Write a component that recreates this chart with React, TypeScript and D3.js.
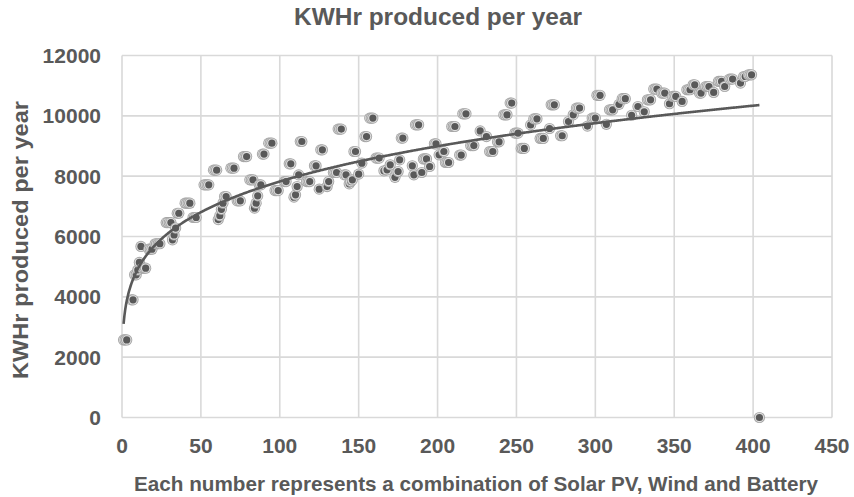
import React from "react";
import * as d3 from "d3";

// Each group: [x of last point, number of consecutive points, KWHr per year]
const groups: [number, number, number][] = [
  [3, 3, 2570], [7, 2, 3900], [9, 2, 4730], [10, 1, 4890], [11, 1, 5140],
  [12, 1, 5670], [15, 3, 4950], [19, 3, 5580], [24, 4, 5760], [31, 4, 6460],
  [32, 1, 5890], [33, 1, 6050], [34, 1, 6280], [36, 2, 6770], [43, 4, 7105],
  [47, 3, 6630], [55, 4, 7712], [60, 3, 8200], [61, 1, 6560], [62, 1, 6690],
  [63, 1, 6900], [64, 1, 7105], [66, 2, 7324], [71, 3, 8266], [75, 3, 7181],
  [79, 3, 8651], [83, 3, 7878], [84, 1, 6940], [85, 1, 7105], [86, 1, 7347],
  [88, 2, 7712], [90, 2, 8731], [95, 3, 9095], [99, 3, 7523], [104, 2, 7822],
  [107, 2, 8409], [109, 1, 7304], [110, 1, 7380], [111, 1, 7656], [112, 1, 8044],
  [114, 2, 9149], [119, 3, 7822], [123, 2, 8343], [125, 1, 7570], [127, 2, 8873],
  [130, 1, 7656], [131, 1, 7822], [136, 3, 8121], [139, 3, 9560], [142, 2, 8044],
  [144, 1, 7745], [145, 1, 7822], [146, 1, 7878], [148, 2, 8817], [150, 1, 8067],
  [152, 1, 8432], [155, 2, 9314], [159, 3, 9925], [163, 3, 8600], [166, 1, 8177],
  [168, 1, 8210], [170, 1, 8376], [173, 1, 7960], [175, 1, 8153], [176, 1, 8541],
  [178, 2, 9262], [184, 1, 8343], [185, 1, 8044], [188, 3, 9702], [190, 1, 8121],
  [193, 3, 8570], [195, 1, 8320], [199, 2, 9072], [201, 1, 8707], [204, 1, 8817],
  [207, 3, 8453], [211, 3, 9646], [215, 2, 8700], [218, 3, 10067], [223, 3, 9015],
  [227, 1, 9500], [231, 1, 9314], [235, 3, 8817], [239, 2, 9140], [244, 3, 10034],
  [247, 2, 10422], [251, 3, 9427], [255, 3, 8920], [259, 1, 9700], [263, 3, 9900],
  [267, 3, 9250], [271, 1, 9580], [274, 3, 10366], [279, 2, 9340], [283, 1, 9812],
  [286, 1, 10034], [290, 3, 10256], [295, 1, 9660], [300, 3, 9925], [303, 3, 10680],
  [307, 1, 9720], [311, 3, 10200], [315, 1, 10380], [319, 3, 10570], [323, 1, 10020],
  [327, 1, 10310], [331, 1, 10133], [335, 3, 10532], [339, 3, 10886], [344, 3, 10754],
  [347, 1, 10400], [351, 3, 10642], [355, 1, 10476], [360, 3, 10864], [363, 2, 11029],
  [367, 2, 10754], [372, 3, 10973], [375, 1, 10775], [380, 3, 11139], [382, 1, 10973],
  [387, 3, 11218], [392, 1, 11085], [395, 2, 11304], [399, 3, 11361], [404, 1, 0],
];

// Power trendline y = a * x^b, coefficients
const trendA = 3100;
const trendB = 0.201;

const xTicks = [0, 50, 100, 150, 200, 250, 300, 350, 400, 450];
const yTicks = [0, 2000, 4000, 6000, 8000, 10000, 12000];

const title = "KWHr produced per year";
const yTitle = "KWHr produced per year";
const xTitle = "Each number represents a combination  of Solar PV, Wind and Battery";

const W = 854;
const H = 497;
const FONT = "'Liberation Sans', Arial, sans-serif";
const TXT = "#595959";

export default function App() {
  const points: { x: number; y: number }[] = [];
  groups.forEach(([xe, n, v]) => {
    for (let i = n - 1; i >= 0; i--) points.push({ x: xe - i, y: v });
  });

  const x = d3.scaleLinear().domain([0, 450]).range([122, 832]);
  const y = d3.scaleLinear().domain([0, 12000]).range([417.5, 55.5]);

  const [xmin, xmax] = d3.extent(points, (p) => p.x) as [number, number];
  const trendX = d3.range(xmin, xmax + 0.001, 0.5);
  const line = d3
    .line<number>()
    .x((t) => x(t))
    .y((t) => y(trendA * Math.pow(t, trendB)));

  return (
    <div style={{ position: "fixed", left: 0, top: 0 }}>
      <svg width={W} height={H} style={{ display: "block", background: "#fff" }}>
        <g>
          {yTicks.map((t) => (
            <line key={"gy" + t} x1={x(0)} x2={x(450)} y1={y(t)} y2={y(t)} stroke="#d9d9d9" strokeWidth={1.6} />
          ))}
          {xTicks.map((t) => (
            <line key={"gx" + t} x1={x(t)} x2={x(t)} y1={y(0)} y2={y(12000)} stroke="#d9d9d9" strokeWidth={1.6} />
          ))}
        </g>
        <g>
          {points.map((p, i) => (
            <g key={i} transform={`translate(${x(p.x)},${y(p.y)})`}>
              <circle r={5.6} fill="#a6a6a6" />
              <circle r={4.7} fill="#e0e0e0" />
              <circle r={3.6} fill="#595959" />
            </g>
          ))}
        </g>
        <path d={line(trendX) || ""} fill="none" stroke="#595959" strokeWidth={2.6} />
        <g fontFamily={FONT} fill={TXT} fontWeight="bold">
          {yTicks.map((t) => (
            <text key={"ly" + t} x={101} y={y(t)} dy="0.35em" textAnchor="end" fontSize={21}>
              {t}
            </text>
          ))}
          {xTicks.map((t) => (
            <text key={"lx" + t} x={x(t)} y={446} dy="0.35em" textAnchor="middle" fontSize={21}>
              {t}
            </text>
          ))}
          <text x={438} y={25} textAnchor="middle" fontSize={23} textLength={288} lengthAdjust="spacingAndGlyphs">
            {title}
          </text>
          <text
            transform={`translate(28,240) rotate(-90)`}
            textAnchor="middle"
            fontSize={22}
            textLength={278}
            lengthAdjust="spacingAndGlyphs"
          >
            {yTitle}
          </text>
          <text x={476} y={491} textAnchor="middle" fontSize={21} textLength={684} lengthAdjust="spacingAndGlyphs">
            {xTitle}
          </text>
        </g>
      </svg>
    </div>
  );
}
